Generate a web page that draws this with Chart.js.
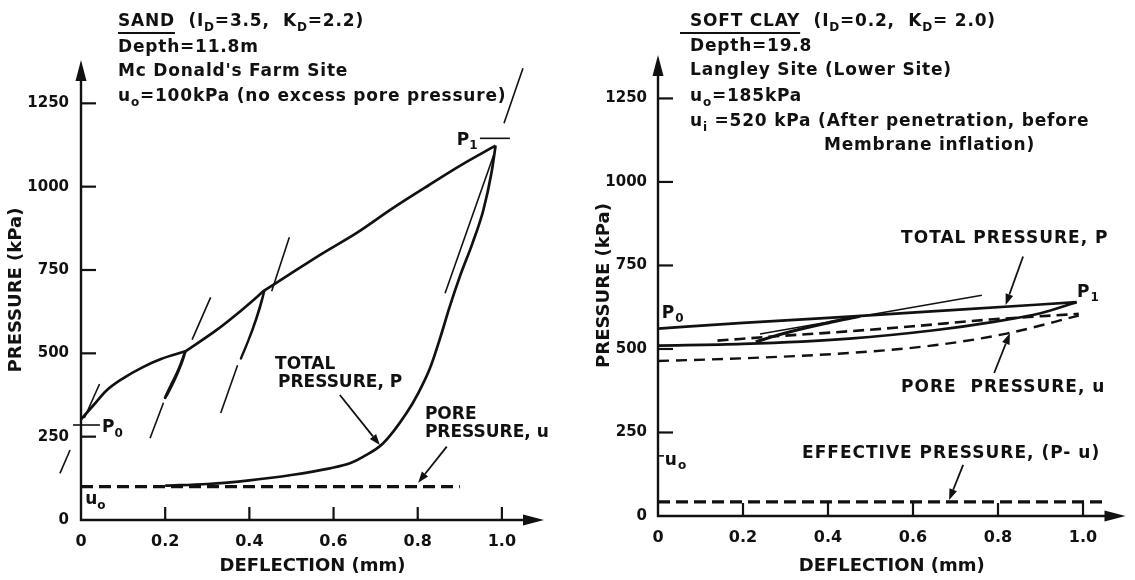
<!DOCTYPE html>
<html>
<head>
<meta charset="utf-8">
<script src="https://cdn.jsdelivr.net/npm/chart.js@4.4.1/dist/chart.umd.min.js"></script>
<style>
html, body { margin: 0; padding: 0; background: #fff; }
#wrap { position: relative; width: 1135px; height: 580px; }
canvas { position: absolute; top: 0; }
#sand { left: 0; }
#clay { left: 567px; }
</style>
</head>
<body>
<div id="wrap">
  <canvas id="sand" width="567" height="580"></canvas>
  <canvas id="clay" width="568" height="580"></canvas>
</div>
<script>
var INK = '#111';
var FAMILY = '"DejaVu Sans", "Liberation Sans", sans-serif';

// axes (deflection in mm, pressure in kPa)
var xTicks = [0, 0.2, 0.4, 0.6, 0.8, 1.0];
var xTickLabels = ['0', '0.2', '0.4', '0.6', '0.8', '1.0'];
var yTicks = [0, 250, 500, 750, 1000, 1250];
var yTickLabels = ['0', '250', '500', '750', '1000', '1250'];

// SAND - total pressure, first loading up to the 2nd unload loop
var sandLoadX = [0, 0.03, 0.06, 0.1, 0.146, 0.19, 0.248];
var sandLoadY = [302, 345, 388, 425, 458, 483, 506];
var sandLoad2X = [0.248, 0.32, 0.38, 0.436];
var sandLoad2Y = [506, 568, 628, 689];
// reloading up to P1
var sandToP1X = [0.436, 0.487, 0.57, 0.657, 0.74, 0.827, 0.905, 0.985];
var sandToP1Y = [689, 730, 797, 863, 935, 1005, 1066, 1123];
// unloading from P1
var sandUnloadX = [0.2, 0.3, 0.4, 0.5, 0.591, 0.639, 0.671, 0.718, 0.773, 0.801, 0.829, 0.853, 0.876, 0.9, 0.93, 0.956, 0.975, 0.985];
var sandUnloadY = [103, 108, 119, 135, 155, 170, 190, 230, 320, 380, 455, 545, 640, 730, 830, 930, 1040, 1123];
// small unload/reload loops
var sandLoop1X = [0.248, 0.238, 0.222, 0.2, 0.214, 0.232, 0.248];
var sandLoop1Y = [506, 468, 420, 367, 405, 452, 506];
var sandLoop2X = [0.436, 0.426, 0.408, 0.38, 0.398, 0.418, 0.436];
var sandLoop2Y = [689, 640, 572, 485, 540, 612, 689];
// thin tangent strokes
var sandTangentX = [[0.008, 0.044], [-0.05, -0.026], [0.164, 0.196], [0.264, 0.308], [0.332, 0.372], [0.453, 0.495], [0.865, 0.982], [1.005, 1.05]];
var sandTangentY = [[306, 408], [140, 210], [245, 352], [541, 668], [321, 464], [686, 848], [680, 1100], [1190, 1355]];
// pore pressure
var sandPoreX = [0, 0.9];
var sandPoreY = [100, 100];

// SOFT CLAY - total pressure
var clayLoadX = [0, 0.2, 0.45, 0.7, 0.985];
var clayLoadY = [561, 578, 597, 617, 640];
var clayUnloadX = [0, 0.2, 0.45, 0.65, 0.79, 0.9, 0.985];
var clayUnloadY = [510, 515, 531, 556, 581, 607, 640];
var clayReloadX = [0.23, 0.3, 0.4, 0.475];
var clayReloadY = [522, 548, 578, 598];
var clayTangentX = [[0.24, 0.762]];
var clayTangentY = [[545, 661]];
// pore pressure (two branches)
var clayPoreTopX = [0.14, 0.3, 0.45, 0.6, 0.78, 0.9, 0.99];
var clayPoreTopY = [525, 540, 553, 568, 588, 598, 605];
var clayPoreLowX = [0, 0.2, 0.45, 0.65, 0.82, 0.99];
var clayPoreLowY = [464, 472, 488, 511, 546, 600];
// effective pressure
var clayEffX = [0, 1.055];
var clayEffY = [42, 42];

function font(size) { return 'bold ' + size + 'px ' + FAMILY; }

function line(xs, ys, style) {
  return Object.assign({
    data: xs.map(function(x, i) { return {x: x, y: ys[i]}; }),
    showLine: true, pointRadius: 0, borderColor: INK, borderWidth: 2.7,
    cubicInterpolationMode: 'monotone', clip: false, fill: false
  }, style || {});
}

function strokes(xss, yss, width) {
  return xss.map(function(xs, i) { return line(xs, yss[i], {borderWidth: width, cubicInterpolationMode: 'default', tension: 0}); });
}

function loop(xs, ys, width) {
  return line(xs, ys, {borderWidth: width, cubicInterpolationMode: 'default', tension: 0.4});
}

// text with "_c" as subscript
function richText(ctx, x, y, str, size) {
  str.split(/(_.)/).forEach(function(p) {
    if (!p) return;
    if (p.length === 2 && p[0] === '_') {
      ctx.font = font(Math.round(size * 0.72));
      ctx.fillText(p[1], x, y + size * 0.32);
      x += ctx.measureText(p[1]).width;
    } else {
      ctx.font = font(size);
      ctx.fillText(p, x, y);
      x += ctx.measureText(p).width;
    }
  });
  return x;
}

function seg(ctx, x1, y1, x2, y2) {
  ctx.beginPath(); ctx.moveTo(x1, y1); ctx.lineTo(x2, y2); ctx.stroke();
}

function tri(ctx, x1, y1, x2, y2, x3, y3) {
  ctx.beginPath(); ctx.moveTo(x1, y1); ctx.lineTo(x2, y2); ctx.lineTo(x3, y3); ctx.closePath(); ctx.fill();
}

function pointer(ctx, x1, y1, x2, y2) {
  var a = Math.atan2(y2 - y1, x2 - x1), h = 11, w = 4;
  var bx = x2 - h * Math.cos(a), by = y2 - h * Math.sin(a);
  seg(ctx, x1, y1, bx, by);
  tri(ctx, x2, y2, bx + w * Math.sin(a), by - w * Math.cos(a), bx - w * Math.sin(a), by + w * Math.cos(a));
}

var panels = {
  sand: {
    headers: [
      {x: 118, y: 22, under: 'SAND', text: '  (I_D=3.5,  K_D=2.2)'},
      {x: 118, y: 48, text: 'Depth=11.8m'},
      {x: 118, y: 72, text: "Mc Donald's Farm Site"},
      {x: 118, y: 97, text: 'u_o=100kPa (no excess pore pressure)'}
    ],
    notes: [
      {x: 0.461, y: 465, text: 'TOTAL'},
      {x: 0.468, y: 411, text: 'PRESSURE, P'},
      {x: 0.817, y: 315, text: 'PORE'},
      {x: 0.817, y: 261, text: 'PRESSURE, u'},
      {x: 0.05, y: 276, text: 'P_0'},
      {x: 0.01, y: 60, text: 'u_o'},
      {x: 0.893, y: 1139, text: 'P_1'}
    ],
    spacing: '0px',
    marks: [[-0.019, 285, 0.045, 285], [0.948, 1145, 1.019, 1145]],
    pointers: [[0.615, 375, 0.71, 225], [0.869, 220, 0.801, 112]]
  },
  clay: {
    headers: [
      {x: 123, y: 22, under: 'SOFT CLAY', ulFrom: 113, text: '  (I_D=0.2,  K_D= 2.0)'},
      {x: 123, y: 47, text: 'Depth=19.8'},
      {x: 123, y: 71, text: 'Langley Site (Lower Site)'},
      {x: 123, y: 97, text: 'u_o=185kPa'},
      {x: 123, y: 122, text: 'u_i =520 kPa (After penetration, before'},
      {x: 257, y: 146, text: 'Membrane inflation)'}
    ],
    notes: [
      {x: 0.572, y: 831, text: 'TOTAL PRESSURE, P'},
      {x: 0.572, y: 383, text: 'PORE  PRESSURE, u'},
      {x: 0.339, y: 188, text: 'EFFECTIVE PRESSURE, (P- u)'},
      {x: 0.009, y: 607, text: 'P_0'},
      {x: 0.986, y: 670, text: 'P_1'},
      {x: 0.016, y: 167, text: 'u_o'}
    ],
    spacing: '1px',
    marks: [[0, 180, 0.014, 180]],
    pointers: [[0.859, 777, 0.818, 632], [0.791, 428, 0.828, 547], [0.718, 153, 0.685, 48]]
  }
};

var sketch = {
  id: 'sketch',
  beforeDatasetsDraw: function(chart) {
    var ctx = chart.ctx, a = chart.chartArea, sx = chart.scales.x, sy = chart.scales.y;
    ctx.save();
    ctx.strokeStyle = INK; ctx.fillStyle = INK; ctx.lineWidth = 2.4;
    ctx.beginPath();
    ctx.moveTo(a.left, a.top + 12); ctx.lineTo(a.left, a.bottom); ctx.lineTo(a.right - 12, a.bottom);
    ctx.stroke();
    tri(ctx, a.left, a.top, a.left - 5.5, a.top + 21, a.left + 5.5, a.top + 21);
    tri(ctx, a.right, a.bottom, a.right - 21, a.bottom - 5.5, a.right - 21, a.bottom + 5.5);
    ctx.lineWidth = 2.2;
    yTicks.forEach(function(v) {
      if (v === 0) return;
      var y = sy.getPixelForValue(v);
      seg(ctx, a.left, y, a.left + 15, y);
    });
    xTicks.forEach(function(v) {
      if (v === 0) return;
      var x = sx.getPixelForValue(v);
      seg(ctx, x, a.bottom, x, a.bottom - 13);
    });
    ctx.restore();
  },
  afterDraw: function(chart) {
    var p = panels[chart.canvas.id], ctx = chart.ctx, sx = chart.scales.x, sy = chart.scales.y;
    ctx.save();
    ctx.fillStyle = INK; ctx.strokeStyle = INK;
    ctx.textAlign = 'left'; ctx.textBaseline = 'middle';
    ctx.letterSpacing = '0.8px';
    p.headers.forEach(function(h) {
      var x = h.x;
      if (h.under) {
        ctx.font = font(17);
        ctx.fillText(h.under, x, h.y);
        var w = ctx.measureText(h.under).width;
        ctx.lineWidth = 2;
        seg(ctx, h.ulFrom || x, h.y + 11, x + w, h.y + 11);
        x += w;
      }
      richText(ctx, x, h.y, h.text, 17);
    });
    ctx.letterSpacing = p.spacing;
    p.notes.forEach(function(n) {
      richText(ctx, sx.getPixelForValue(n.x), sy.getPixelForValue(n.y), n.text, 17);
    });
    ctx.letterSpacing = '0px';
    ctx.lineWidth = 1.6;
    p.marks.forEach(function(m) {
      seg(ctx, sx.getPixelForValue(m[0]), sy.getPixelForValue(m[1]), sx.getPixelForValue(m[2]), sy.getPixelForValue(m[3]));
    });
    ctx.lineWidth = 1.8;
    p.pointers.forEach(function(m) {
      pointer(ctx, sx.getPixelForValue(m[0]), sy.getPixelForValue(m[1]), sx.getPixelForValue(m[2]), sy.getPixelForValue(m[3]));
    });
    ctx.restore();
  }
};

function buildChart(id, datasets, frame) {
  return new Chart(document.getElementById(id), {
    type: 'scatter',
    data: {datasets: datasets},
    plugins: [sketch],
    options: {
      responsive: false,
      animation: false,
      layout: {padding: {top: frame.top, right: frame.right, left: 0, bottom: 0}},
      plugins: {legend: {display: false}, tooltip: {enabled: false}},
      scales: {
        x: {
          type: 'linear', min: 0, max: 1.1,
          afterBuildTicks: function(s) { s.ticks = xTicks.map(function(v) { return {value: v}; }); },
          afterFit: function(s) { s.height = frame.xHeight; },
          grid: {display: false}, border: {display: false},
          ticks: {
            color: INK, font: {family: FAMILY, size: 16, weight: 'bold'}, padding: 4,
            maxRotation: 0, autoSkip: false,
            callback: function(v, i) { return xTickLabels[i]; }
          },
          title: {display: true, text: 'DEFLECTION (mm)', color: INK,
                  font: {family: FAMILY, size: 18, weight: 'bold'}, padding: {top: 0, bottom: 3}}
        },
        y: {
          type: 'linear', min: 0, max: 1380,
          afterBuildTicks: function(s) { s.ticks = yTicks.map(function(v) { return {value: v}; }); },
          afterFit: function(s) { s.width = frame.yWidth; },
          grid: {display: false}, border: {display: false},
          ticks: {
            color: INK, font: {family: FAMILY, size: 15, weight: 'bold'}, padding: frame.yPad,
            autoSkip: false,
            callback: function(v, i) { return yTickLabels[i]; }
          },
          title: {display: true, text: 'PRESSURE (kPa)', color: INK,
                  font: {family: FAMILY, size: 18, weight: 'bold'}, padding: {top: frame.titlePad, bottom: 0}}
        }
      }
    }
  });
}

var sandSets = [
  line(sandLoadX, sandLoadY),
  line(sandLoad2X, sandLoad2Y),
  line(sandToP1X, sandToP1Y),
  line(sandUnloadX, sandUnloadY),
  loop(sandLoop1X, sandLoop1Y, 2.8),
  loop(sandLoop2X, sandLoop2Y, 2.3),
  line(sandPoreX, sandPoreY, {borderWidth: 3.2, borderDash: [12, 6]})
].concat(strokes(sandTangentX, sandTangentY, 1.6));

var claySets = [
  line(clayLoadX, clayLoadY),
  line(clayUnloadX, clayUnloadY),
  line(clayReloadX, clayReloadY, {borderWidth: 3.2}),
  line(clayPoreTopX, clayPoreTopY, {borderWidth: 2.6, borderDash: [11, 6]}),
  line(clayPoreLowX, clayPoreLowY, {borderWidth: 2.4, borderDash: [11, 7]}),
  line(clayEffX, clayEffY, {borderWidth: 3.2, borderDash: [12, 6]})
].concat(strokes(clayTangentX, clayTangentY, 1.6));

buildChart('sand', sandSets, {top: 60, right: 23, xHeight: 60, yWidth: 81, yPad: 4, titlePad: 6});
buildChart('clay', claySets, {top: 55, right: 9.5, xHeight: 64, yWidth: 91, yPad: 3, titlePad: 27});
</script>
</body>
</html>
